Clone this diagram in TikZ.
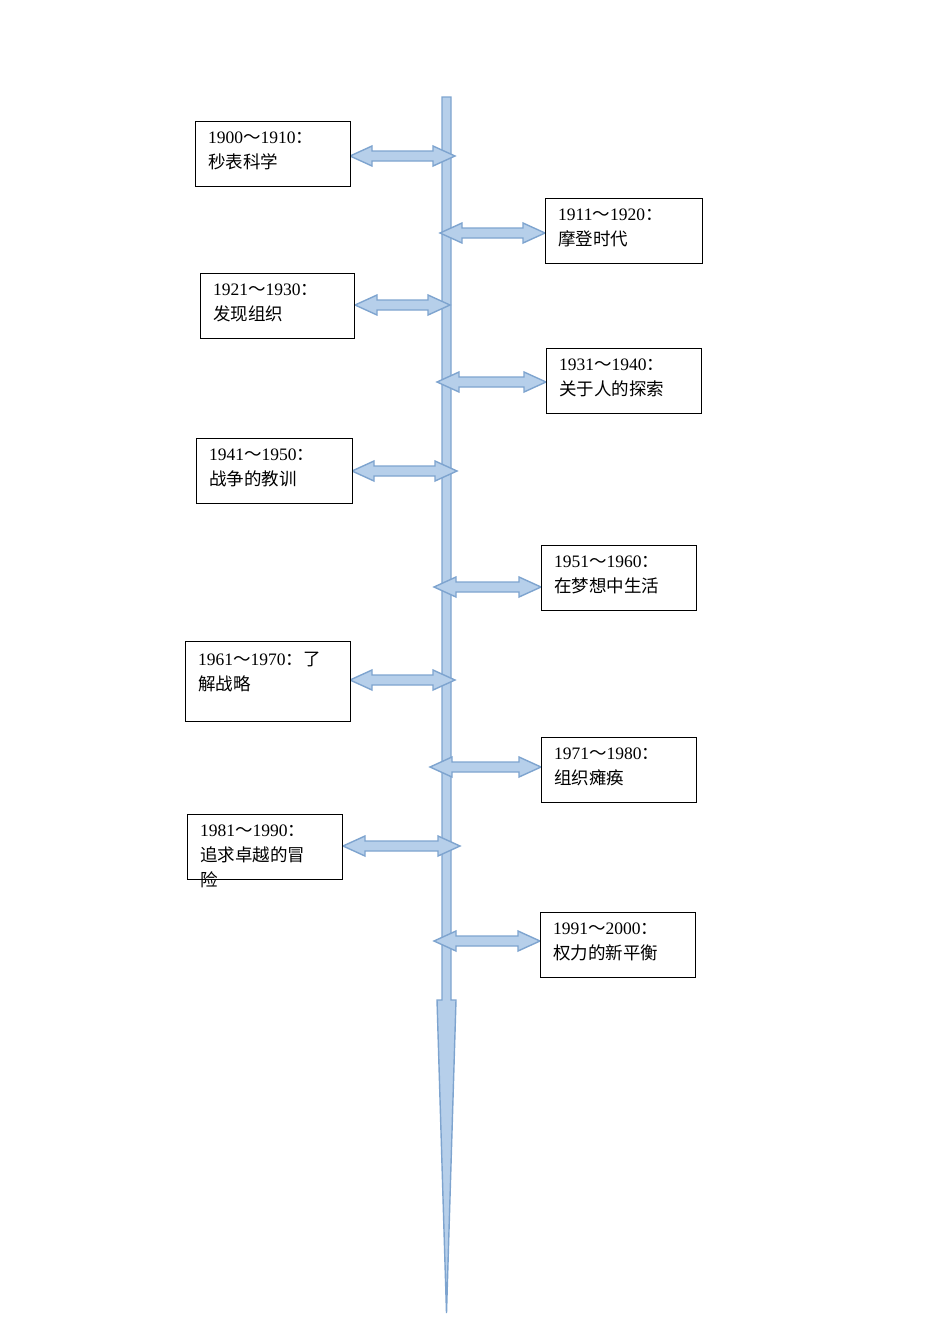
\documentclass[tikz,border=0pt]{standalone}
\usepackage{fontspec}
\setmainfont{Liberation Serif}
\newfontfamily\cjk{Noto Sans CJK SC}
\newcommand{\yr}[2]{#1{\cjk ～}#2{\cjk ：}}
\definecolor{afill}{HTML}{B6CFEA}
\definecolor{aline}{HTML}{7EA4CF}
\tikzset{
 evbox/.style={draw=black,line width=0.9pt,fill=white,inner sep=0pt},
 evtext/.style={anchor=north west,align=left,font=\fontsize{17.5}{25}\selectfont,inner sep=0pt},
 arr/.style={fill=afill,draw=aline,line width=1.4pt,line join=miter}
}
\newcommand{\darrow}[3]{%
 \draw[arr] (#1,#3) -- ++(22,-10) -- ++(0,5) -- (#2-22,#3-5) -- ++(0,-5) -- (#2,#3) -- ++(-22,10) -- ++(0,-5) -- (#1+22,#3+5) -- ++(0,5) -- cycle;}
\newcommand{\evbox}[6]{%
 \draw[evbox] (#1,#2) rectangle (#3,#4);
 \node[evtext] (#5) at (#1+13,#2+11) {#6};}
\begin{document}
\begin{tikzpicture}[x=1pt,y=-1pt]
\useasboundingbox (0,0) rectangle (950,1344);
% spine
\draw[arr] (442,97) -- (451,97) -- (451,1000) -- (456,1000) -- (446.5,1313) -- (437,1000) -- (442,1000) -- cycle;
% arrows
\darrow{350}{455}{156}
\darrow{440}{545}{233}
\darrow{355}{450}{305}
\darrow{437}{546}{382}
\darrow{352}{457}{471}
\darrow{434}{541}{587}
\darrow{350}{455}{680}
\darrow{430}{541}{767}
\darrow{343}{460}{846}
\darrow{434}{540}{941}
% boxes
\evbox{195}{121}{350}{186}{t1}{\yr{1900}{1910}\\\cjk 秒表科学}
\evbox{545}{198}{702}{263}{t2}{\yr{1911}{1920}\\\cjk 摩登时代}
\evbox{200}{273}{354}{338}{t3}{\yr{1921}{1930}\\\cjk 发现组织}
\evbox{546}{348}{701}{413}{t4}{\yr{1931}{1940}\\\cjk 关于人的探索}
\evbox{196}{438}{352}{503}{t5}{\yr{1941}{1950}\\\cjk 战争的教训}
\evbox{541}{545}{696}{610}{t6}{\yr{1951}{1960}\\\cjk 在梦想中生活}
\evbox{185}{641}{350}{721}{t7}{\yr{1961}{1970}{\cjk 了}\\\cjk 解战略}
\evbox{541}{737}{696}{802}{t8}{\yr{1971}{1980}\\\cjk 组织瘫痪}
\evbox{187}{814}{342}{879}{t9}{\yr{1981}{1990}\\\cjk 追求卓越的冒\\\cjk 险}
\evbox{540}{912}{695}{977}{t10}{\yr{1991}{2000}\\\cjk 权力的新平衡}
\end{tikzpicture}
\end{document}
